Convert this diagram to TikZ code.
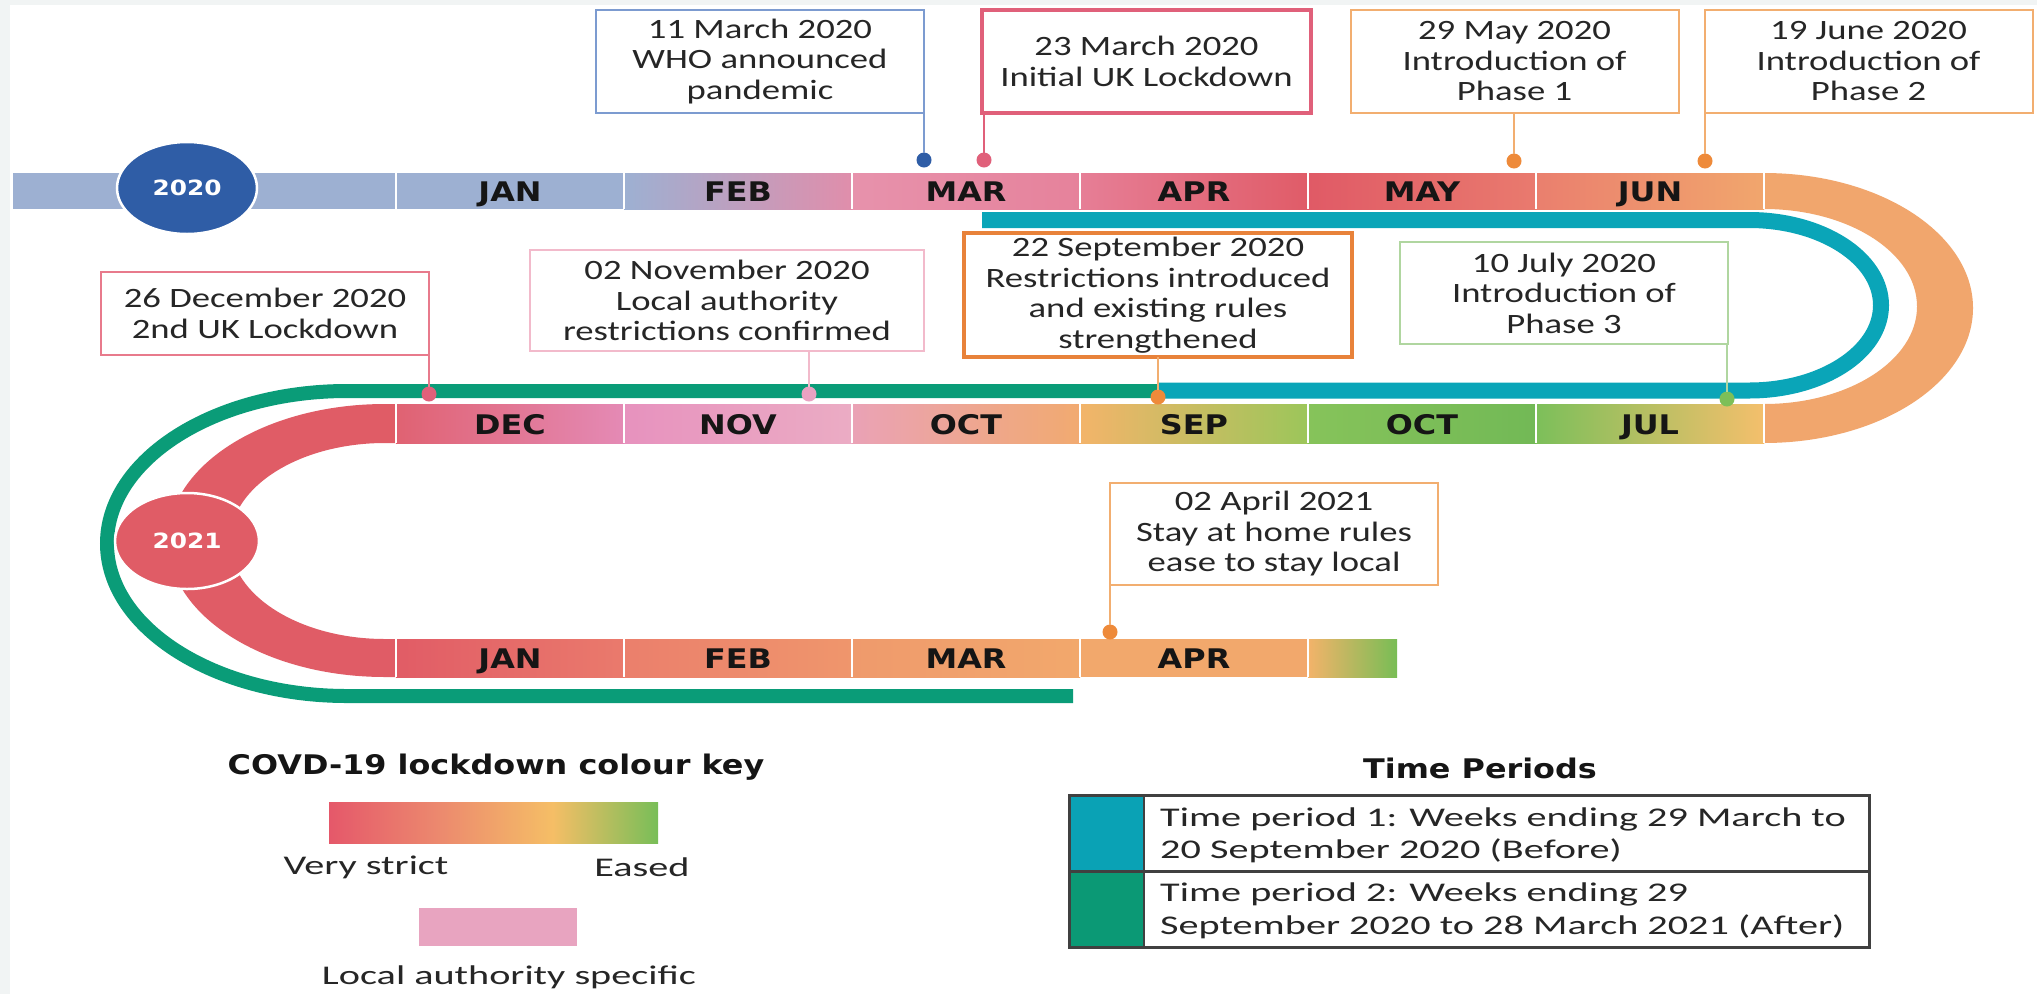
\documentclass[tikz,border=0pt]{standalone}
\usepackage{fontspec}
\usetikzlibrary{shapes.geometric}
\newfontfamily\boxfont{Carlito}[FakeStretch=1.31]
\newfontfamily\tabfont{Carlito}[FakeStretch=1.49]
\newfontfamily\monthfont{DejaVu Sans}[FakeStretch=1.18]

\definecolor{bggrey}{HTML}{F1F4F4}
\definecolor{txt}{HTML}{262626}
\definecolor{montxt}{HTML}{151515}
\definecolor{rblue}{HTML}{9DB0D2}
\definecolor{yblue}{HTML}{2F5DA6}
\definecolor{ringor}{HTML}{F1A66D}
\definecolor{ringred}{HTML}{E05C66}
\definecolor{aprorange}{HTML}{F2A86C}
\definecolor{teal}{HTML}{0AA5B8}
\definecolor{pgreen}{HTML}{0A9C78}
\definecolor{cBlue}{HTML}{7C9BD0}
\definecolor{cRed}{HTML}{E0607A}
\definecolor{cOrL}{HTML}{F2AE70}
\definecolor{cOrD}{HTML}{E8823A}
\definecolor{cPinkR}{HTML}{E87A8C}
\definecolor{cPinkL}{HTML}{F2BACB}
\definecolor{cGreenL}{HTML}{B0D6A0}
\definecolor{dBlue}{HTML}{2F5DA6}
\definecolor{dRed}{HTML}{E0607A}
\definecolor{dOr}{HTML}{EE8A3A}
\definecolor{dPink}{HTML}{E9A2C2}
\definecolor{dGreen}{HTML}{7DBF58}
\definecolor{kA}{HTML}{E5586A}
\definecolor{kB}{HTML}{EC8A6E}
\definecolor{kC}{HTML}{F5BE66}
\definecolor{kD}{HTML}{78BE58}
\definecolor{kPink}{HTML}{E8A4C0}
\definecolor{tabline}{HTML}{404040}
\definecolor{tTeal}{HTML}{0AA2B5}
\definecolor{tGreen}{HTML}{0B9975}

\pgfdeclarehorizontalshading{keyshade}{100bp}{color(0bp)=(kA); color(25bp)=(kA); color(42bp)=(kB); color(59bp)=(kC); color(75bp)=(kD); color(100bp)=(kD)}

\tikzset{
  evbox/.style={draw, line width=2pt, fill=white, inner sep=0pt, outer sep=0pt, align=center,
    font=\boxfont\fontsize{28}{30.5}\selectfont, text=txt, minimum width=328pt, minimum height=103pt},
  mon/.style={font=\monthfont\bfseries\fontsize{27}{30}\selectfont, text=montxt, inner sep=0pt, anchor=base},
  evdot/.style={circle, inner sep=0pt, outer sep=0pt, minimum size=15pt},
  conn/.style={line width=1.8pt},
  divider/.style={draw=white, line width=2.2pt},
  yearell/.style={ellipse, draw=white, line width=2.5pt, inner sep=0pt,
    font=\monthfont\bfseries\fontsize{21}{24}\selectfont, text=white},
  legtxt/.style={font=\tabfont\fontsize{27}{32.5}\selectfont, text=txt, inner sep=0pt, align=left},
  legtitle/.style={font=\monthfont\bfseries\fontsize{27}{30}\selectfont, text=montxt, inner sep=0pt},
}

\begin{document}
\begin{tikzpicture}[x=1pt,y=-1pt]
\useasboundingbox (0,0) rectangle (2037,994);
\fill[bggrey] (0,0) rectangle (2037,994);
\fill[white] (10,5) rectangle (2037,994);

% ---------- row 1 ----------
\fill[rblue] (13,173) rectangle (624,209);
\shade[left color=rblue, middle color=rblue!85!pink, right color={rgb,255:red,224;green,142;blue,171}] (624,173) rectangle (852,209);
\shade[left color={rgb,255:red,231;green,146;blue,172}, right color={rgb,255:red,230;green,130;blue,155}] (852,173) rectangle (1080,209);
\shade[left color={rgb,255:red,230;green,126;blue,150}, right color={rgb,255:red,224;green,92;blue,104}] (1080,173) rectangle (1308,209);
\shade[left color={rgb,255:red,224;green,90;blue,102}, right color={rgb,255:red,233;green,122;blue,110}] (1308,173) rectangle (1536,209);
\shade[left color={rgb,255:red,234;green,127;blue,110}, middle color={rgb,255:red,238;green,148;blue,110}, right color=ringor] (1536,173) rectangle (1764,209);
% right ring
\fill[ringor] (1764,173) arc[start angle=90, end angle=-90, x radius=209pt, y radius=135pt]
  -- (1764,404) arc[start angle=-90, end angle=90, x radius=153pt, y radius=97.5pt] -- cycle;

% ---------- row 2 ----------
\shade[left color={rgb,255:red,224;green,98;blue,114}, right color={rgb,255:red,228;green,138;blue,181}] (396,404) rectangle (624,443);
\shade[left color={rgb,255:red,231;green,146;blue,190}, right color={rgb,255:red,235;green,172;blue,196}] (624,404) rectangle (852,443);
\shade[left color={rgb,255:red,234;green,162;blue,182}, right color={rgb,255:red,241;green,170;blue,112}] (852,404) rectangle (1080,443);
\shade[left color={rgb,255:red,243;green,180;blue,106}, middle color={rgb,255:red,232;green,195;blue,98}, right color={rgb,255:red,156;green,198;blue,90}] (1080,404) rectangle (1308,443);
\shade[left color={rgb,255:red,134;green,195;blue,90}, right color={rgb,255:red,114;green,185;blue,86}] (1308,404) rectangle (1536,443);
\shade[left color={rgb,255:red,124;green,191;blue,90}, middle color={rgb,255:red,184;green,200;blue,94}, right color={rgb,255:red,244;green,191;blue,108}] (1536,404) rectangle (1764,443);
% left ring
\fill[ringred] (396,404) -- (385,404) arc[start angle=90, end angle=270, x radius=217pt, y radius=136.5pt]
  -- (396,677) -- (396,639) -- (385,639) arc[start angle=270, end angle=90, x radius=155pt, y radius=98pt]
  -- (396,443) -- cycle;

% ---------- row 3 ----------
\shade[left color={rgb,255:red,225;green,92;blue,102}, right color={rgb,255:red,234;green,122;blue,108}] (396,639) rectangle (624,677);
\shade[left color={rgb,255:red,235;green,127;blue,108}, right color={rgb,255:red,239;green,150;blue,108}] (624,639) rectangle (852,677);
\shade[left color={rgb,255:red,239;green,154;blue,108}, right color=aprorange] (852,639) rectangle (1080,677);
\fill[aprorange] (1080,639) rectangle (1308,677);
\shade[left color={rgb,255:red,243;green,179;blue,106}, middle color={rgb,255:red,200;green,202;blue,96}, right color={rgb,255:red,120;green,189;blue,85}] (1308,639) rectangle (1397,677);

% ---------- dividers ----------
\foreach \xx in {396,624,852,1080,1308,1536,1764} {
  \draw[divider] (\xx,173) -- (\xx,209);
  \draw[divider] (\xx,404) -- (\xx,443);
}
\foreach \xx in {396,624,852,1080,1308} {
  \draw[divider] (\xx,639) -- (\xx,677);
}

% ---------- time period lines ----------
\draw[teal, line width=16pt] (982,220) -- (1749,220)
  arc[start angle=90, end angle=-90, x radius=132pt, y radius=85.25pt] -- (1158,390.5);
\draw[pgreen, line width=14pt] (1158,391) -- (347,391)
  arc[start angle=90, end angle=270, x radius=240pt, y radius=152.5pt] -- (1073,696);

% ---------- year ellipses ----------
\node[yearell, fill=yblue, minimum width=140pt, minimum height=92pt] (y2020) at (187,188) {2020};
\node[yearell, fill=ringred, minimum width=144pt, minimum height=96pt] (y2021) at (187,541) {2021};

% ---------- month labels ----------
\node[mon] (m1) at (510,201) {JAN};
\node[mon] (m2) at (738,201) {FEB};
\node[mon] (m3) at (966,201) {MAR};
\node[mon] (m4) at (1194,201) {APR};
\node[mon] (m5) at (1422,201) {MAY};
\node[mon] (m6) at (1650,201) {JUN};
\node[mon] (m7) at (510,434) {DEC};
\node[mon] (m8) at (738,434) {NOV};
\node[mon] (m9) at (966,434) {OCT};
\node[mon] (m10) at (1194,434) {SEP};
\node[mon] (m11) at (1422,434) {OCT};
\node[mon] (m12) at (1650,434) {JUL};
\node[mon] (m13) at (510,668) {JAN};
\node[mon] (m14) at (738,668) {FEB};
\node[mon] (m15) at (966,668) {MAR};
\node[mon] (m16) at (1194,668) {APR};

% ---------- event boxes ----------
\node[evbox, draw=cBlue] (b1) at (760,61.5) {11 March 2020\\WHO announced\\pandemic};
\node[evbox, draw=cRed, line width=4.5pt, minimum width=329pt] (b2) at (1146.5,61.5) {23 March 2020\\Initial UK Lockdown};
\node[evbox, draw=cOrL] (b3) at (1514.5,61.5) {29 May 2020\\Introduction of\\Phase 1};
\node[evbox, draw=cOrL] (b4) at (1868.5,61.5) {19 June 2020\\Introduction of\\Phase 2};
\node[evbox, draw=cPinkR, minimum height=83pt] (b5) at (265,313.5) {26 December 2020\\2nd UK Lockdown};
\node[evbox, draw=cPinkL, minimum width=394pt, minimum height=101pt] (b6) at (727,300.5) {02 November 2020\\Local authority\\restrictions confirmed};
\node[evbox, draw=cOrD, line width=4.5pt, minimum width=388pt, minimum height=124pt] (b7) at (1158,295) {22 September 2020\\Restrictions introduced\\and existing rules\\strengthened};
\node[evbox, draw=cGreenL, minimum height=102pt] (b8) at (1564,293) {10 July 2020\\Introduction of\\Phase 3};
\node[evbox, draw=cOrL, minimum height=102pt] (b9) at (1274,534) {02 April 2021\\Stay at home rules\\ease to stay local};

% ---------- dots ----------
\node[evdot, fill=dBlue] (d1) at (924,160) {};
\node[evdot, fill=dRed] (d2) at (984,160) {};
\node[evdot, fill=dOr] (d3) at (1514,161) {};
\node[evdot, fill=dOr] (d4) at (1705,161) {};
\node[evdot, fill=dRed] (d5) at (429,394) {};
\node[evdot, fill=dPink] (d6) at (809,394) {};
\node[evdot, fill=dOr] (d7) at (1158,397) {};
\node[evdot, fill=dGreen] (d8) at (1727,399) {};
\node[evdot, fill=dOr] (d9) at (1110,632) {};

% ---------- connectors ----------
\draw[conn, cBlue] (d1) -- (d1 |- b1.south);
\draw[conn, cRed] (d2) -- (d2 |- b2.south);
\draw[conn, cOrL] (d3) -- (d3 |- b3.south);
\draw[conn, cOrL] (d4) -- (d4 |- b4.south);
\draw[conn, cPinkR] (d5) -- (d5 |- b5.south);
\draw[conn, cPinkL] (d6) -- (d6 |- b6.south);
\draw[conn, cOrL] (d7) -- (d7 |- b7.south);
\draw[conn, cGreenL] (d8) -- (d8 |- b8.south);
\draw[conn, cOrL] (d9) -- (d9 |- b9.south);

% ---------- colour key ----------
\node[legtitle] (keytitle) at (496,767) {COVD-19 lockdown colour key};
\shade[shading=keyshade] (329,802) rectangle (658,843);
\node[legtxt] (strict) at (366,867) {Very strict};
\node[legtxt] (eased) at (642,867) {Eased};
\fill[kPink] (419,908) rectangle (577,946);
\node[legtxt] (local) at (509,977) {Local authority specific};

% ---------- time periods table ----------
\node[legtitle] (tptitle) at (1480,768) {Time Periods};
\fill[tTeal] (1069,795) rectangle (1144,871);
\fill[tGreen] (1069,871) rectangle (1144,947);
\draw[tabline, line width=3pt] (1069,795) rectangle (1869,947);
\draw[tabline, line width=3pt] (1069,871) -- (1869,871);
\draw[tabline, line width=2pt] (1144,795) -- (1144,947);
\node[legtxt, anchor=west] (tp1) at (1160,835.5) {Time period 1: Weeks ending 29 March to\\20 September 2020 (Before)};
\node[legtxt, anchor=west] (tp2) at (1160,911) {Time period 2: Weeks ending 29\\September 2020 to 28 March 2021 (After)};
\end{tikzpicture}
\end{document}
